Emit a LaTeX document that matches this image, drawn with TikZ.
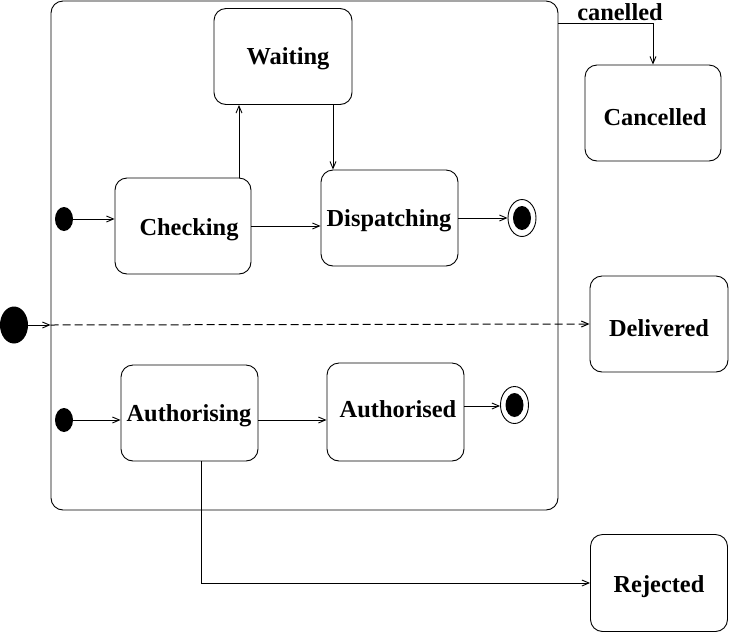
\documentclass[tikz,border=0pt]{standalone}
\usepackage{fontspec}
\setmainfont{Liberation Serif}
\usetikzlibrary{arrows.meta,shapes.geometric}
\begin{document}
\begin{tikzpicture}[x=1pt,y=-1pt,
  line width=0.9pt,
  lbl/.style={font=\fontsize{24.4}{29}\selectfont\bfseries, inner sep=0pt},
  state/.style={draw, rounded corners=12pt, inner sep=0pt},
  initdot/.style={ellipse, fill=black, inner sep=0pt, minimum width=18pt, minimum height=24pt},
  finout/.style={ellipse, draw, inner sep=0pt, minimum width=28pt, minimum height=37pt},
  arr/.style={-{Straight Barb[length=7pt,width=6pt]}},
  dsh/.style={line width=1pt, dash pattern=on 8pt off 4pt}
]
\useasboundingbox (0,0) rectangle (729,633);

\node[draw, rounded corners=12pt, minimum width=507pt, minimum height=509pt, inner sep=0pt] (box) at (304.5,255.5) {};

\node[state, minimum width=138pt, minimum height=96pt] (waiting) at (283,56.5) {};
\node[state, minimum width=136pt, minimum height=96pt] (checking) at (183,226) {};
\node[state, minimum width=137pt, minimum height=96pt] (dispatching) at (389.5,218) {};
\node[state, minimum width=137pt, minimum height=96pt] (authorising) at (189.5,413) {};
\node[state, minimum width=137pt, minimum height=98pt] (authorised) at (395.5,412) {};
\node[state, minimum width=136pt, minimum height=96pt] (cancelled) at (653,113) {};
\node[state, minimum width=138pt, minimum height=96pt] (delivered) at (659,324) {};
\node[state, minimum width=137pt, minimum height=97pt] (rejected) at (659,583) {};

\node[lbl] (waitingT) at (288,59) {Waiting};
\node[lbl] (checkingT) at (189,230) {Checking};
\node[lbl] (dispatchingT) at (389,221) {Dispatching};
\node[lbl] (authorisingT) at (189,416) {Authorising};
\node[lbl] (authorisedT) at (398,409) {Authorised};
\node[lbl] (cancelledT) at (655,117) {Cancelled};
\node[lbl] (deliveredT) at (659,328) {Delivered};
\node[lbl] (rejectedT) at (659,587) {Rejected};

\node[initdot] (init1) at (64,219) {};
\node[initdot] (init2) at (64,420) {};
\node[initdot, minimum width=28pt, minimum height=37pt] (initbig) at (14,325) {};

\node[finout] (fin1) at (522,218) {};
\node[initdot] (fin1in) at (522,218) {};
\node[finout] (fin2) at (514.5,405) {};
\node[initdot] (fin2in) at (514.5,405) {};

\node[lbl] (canlbl) at (620,12) {canelled};

% connectors
\draw[arr] (init1.east) -- (init1.east -| checking.west);
\draw[arr] (init2.east) -- (init2.east -| authorising.west);
\coordinate (entry) at (box.west |- initbig.east);
\draw[arr] (initbig.east) -- (entry);
\draw[arr, dsh] (entry) -- (delivered.west);

\draw[arr] (checking.east) -- (checking.east -| dispatching.west);
\draw[arr] ([xshift=56pt]checking.north) -- ([xshift=56pt]checking.north |- waiting.south);
\draw[arr] ([xshift=50pt]waiting.south) -- ([xshift=50pt]waiting.south |- dispatching.north);
\draw[arr] (dispatching.east) -- (fin1.west);

\draw[arr] ([yshift=-7pt]authorising.east) -- ([yshift=-7pt]authorising.east -| authorised.west);
\draw[arr] ([yshift=6pt]authorised.east) -- ([yshift=6pt]authorised.east -| fin2.west);
\draw[arr] ([xshift=12pt]authorising.south) |- (rejected.west);

\draw[arr] ([yshift=-23pt]box.north east) -| (cancelled.north);
\end{tikzpicture}
\end{document}
